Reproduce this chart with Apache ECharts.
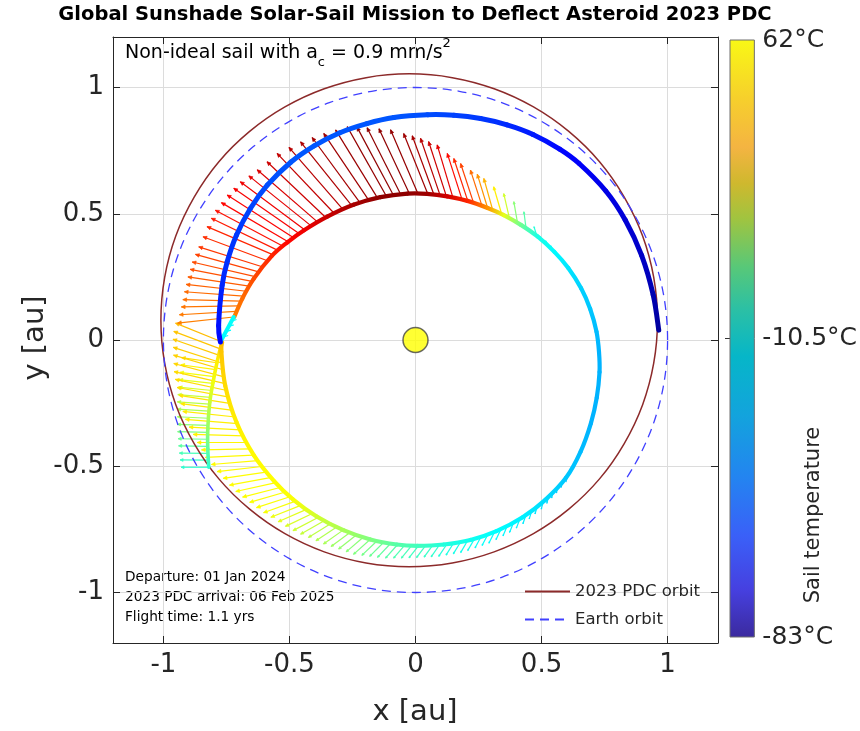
<!DOCTYPE html>
<html>
<head>
<meta charset="utf-8">
<script src="https://cdn.jsdelivr.net/npm/echarts@6.0.0/dist/echarts.min.js"></script>
<style>
html,body{margin:0;padding:0;background:#ffffff;}
#chart{width:860px;height:731px;}
</style>
</head>
<body>
<div id="chart"></div>
<script>
// ================= DATA =================
const axisTickValues = [-1, -0.5, 0, 0.5, 1];
const tempRange = [-83, 62];
const colorbarTickValues = [-83, -10.5, 62];

// Earth orbit (au)
const earthOrbitX = [1,0.985,0.940,0.866,0.766,0.643,0.500,0.342,0.174,0,-0.174,-0.342,-0.500,-0.643,-0.766,-0.866,-0.940,-0.985,-1,-0.985,-0.940,-0.866,-0.766,-0.643,-0.500,-0.342,-0.174,0,0.174,0.342,0.500,0.643,0.766,0.866,0.940,0.985];
const earthOrbitY = [0,0.174,0.342,0.500,0.643,0.766,0.866,0.940,0.985,1,0.985,0.940,0.866,0.766,0.643,0.500,0.342,0.174,0,-0.174,-0.342,-0.500,-0.643,-0.766,-0.866,-0.940,-0.985,-1,-0.985,-0.940,-0.866,-0.766,-0.643,-0.500,-0.342,-0.174];

// 2023 PDC orbit (au)
const pdcOrbitX = [0.960,0.945,0.901,0.828,0.730,0.608,0.468,0.312,0.146,-0.025,-0.196,-0.362,-0.518,-0.658,-0.780,-0.878,-0.951,-0.995,-1.010,-0.995,-0.951,-0.878,-0.780,-0.658,-0.518,-0.362,-0.196,-0.025,0.146,0.312,0.468,0.608,0.730,0.828,0.901,0.945];
const pdcOrbitY = [0.078,0.248,0.412,0.566,0.706,0.826,0.923,0.995,1.039,1.054,1.039,0.995,0.923,0.826,0.706,0.566,0.412,0.248,0.078,-0.092,-0.256,-0.410,-0.550,-0.670,-0.767,-0.839,-0.883,-0.898,-0.883,-0.839,-0.767,-0.670,-0.550,-0.410,-0.256,-0.092];

// Trajectory pieces: position (au) and sail temperature (degC)
const branchX = [-0.820,-0.824,-0.824,-0.816,-0.803,-0.787,-0.771];
const branchY = [-0.504,-0.431,-0.352,-0.246,-0.167,-0.087,-0.021];
const branchT = [-22.1,-14.9,-7.6,-0.4,5.5,9.8,14.2];

const loopX = [-0.767,-0.770,-0.755,-0.710,-0.641,-0.560,-0.485,-0.392,-0.286,-0.179,-0.074,0.007,0.112,0.218,0.321,0.425,0.515,0.597,0.655,0.696,0.719,0.730,0.728,0.718,0.693,0.657,0.606,0.551,0.484,0.418,0.350,0.286,0.206,0.126,0.046,-0.032,-0.139,-0.246,-0.350,-0.442,-0.507,-0.570,-0.642,-0.687,-0.719];
const loopY = [-0.008,-0.047,-0.180,-0.326,-0.457,-0.560,-0.632,-0.699,-0.753,-0.790,-0.810,-0.815,-0.810,-0.792,-0.757,-0.702,-0.633,-0.546,-0.442,-0.329,-0.228,-0.127,-0.048,0.033,0.123,0.205,0.285,0.349,0.410,0.456,0.495,0.523,0.551,0.569,0.579,0.580,0.566,0.536,0.489,0.435,0.388,0.333,0.242,0.164,0.091];
const loopT = [17.1,15.6,12.7,9.8,8.4,7.6,6.9,1.1,-4.7,-10.5,-16.3,-19.2,-23.6,-26.5,-28.6,-30.8,-33.7,-36.6,-38.1,-39.5,-39.5,-39.5,-39.5,-38.1,-36.6,-35.2,-32.3,-29.4,-25.0,-13.4,4.0,22.9,38.8,50.4,57.7,59.8,59.8,56.2,51.9,46.1,43.2,38.8,33.0,28.7,25.8];

const cyanX = [-0.721,-0.774];
const cyanY = [0.091,-0.008];
const cyanT = [-27.9,-29.4];

const blueX = [-0.774,-0.781,-0.767,-0.747,-0.710,-0.655,-0.588,-0.495,-0.402,-0.302,-0.193,-0.086,0.047,0.152,0.258,0.363,0.466,0.572,0.649,0.755,0.832,0.897,0.943,0.965];
const blueY = [-0.008,0.057,0.217,0.310,0.416,0.521,0.613,0.704,0.769,0.820,0.857,0.881,0.892,0.890,0.877,0.852,0.814,0.756,0.699,0.590,0.475,0.335,0.178,0.039];
const blueT = [-64.2,-62.7,-59.8,-58.4,-56.9,-55.5,-54.0,-52.6,-52.6,-52.6,-52.6,-52.6,-54.0,-55.5,-56.9,-59.1,-61.3,-64.2,-65.6,-68.5,-70.7,-72.9,-75.8,-78.7];

// Sail-thrust arrows: base (au), vector (au), temperature (degC)
const topArrowX = [-0.722,-0.712,-0.702,-0.692,-0.682,-0.671,-0.660,-0.648,-0.636,-0.622,-0.608,-0.590,-0.571,-0.550,-0.529,-0.507,-0.485,-0.462,-0.440,-0.414,-0.388,-0.356,-0.322,-0.287,-0.252,-0.219,-0.185,-0.151,-0.116,-0.088,-0.059,-0.025,0.009,0.048,0.073,0.098,0.123,0.149,0.186,0.209,0.232,0.265,0.287,0.307,0.342,0.373,0.405,0.439,0.482,0.511,0.529,0.549];
const topArrowY = [0.091,0.113,0.135,0.154,0.174,0.193,0.213,0.232,0.251,0.270,0.290,0.315,0.340,0.357,0.373,0.390,0.406,0.422,0.437,0.452,0.467,0.485,0.501,0.516,0.531,0.542,0.553,0.563,0.570,0.574,0.577,0.581,0.581,0.580,0.576,0.572,0.568,0.562,0.552,0.546,0.538,0.527,0.520,0.512,0.498,0.481,0.462,0.439,0.410,0.383,0.367,0.349];
const topArrowU = [-0.222,-0.225,-0.227,-0.231,-0.235,-0.239,-0.243,-0.246,-0.250,-0.251,-0.252,-0.253,-0.256,-0.260,-0.265,-0.263,-0.262,-0.259,-0.255,-0.247,-0.240,-0.233,-0.227,-0.215,-0.204,-0.191,-0.179,-0.166,-0.155,-0.144,-0.133,-0.120,-0.108,-0.095,-0.086,-0.078,-0.071,-0.063,-0.060,-0.057,-0.053,-0.047,-0.042,-0.036,-0.032,-0.023,-0.015,-0.009,-0.012,-0.019,-0.013,-0.013];
const topArrowV = [-0.024,-0.013,-0.004,0.006,0.017,0.027,0.037,0.048,0.058,0.069,0.079,0.094,0.109,0.125,0.141,0.154,0.168,0.179,0.190,0.198,0.207,0.221,0.238,0.247,0.254,0.260,0.265,0.269,0.275,0.269,0.264,0.256,0.252,0.238,0.233,0.227,0.218,0.211,0.187,0.173,0.161,0.146,0.137,0.128,0.109,0.099,0.086,0.069,0.039,0.029,0.026,0.024];
const topArrowT = [25.8,26.5,27.2,27.9,28.7,30.1,30.8,32.3,33.0,34.5,35.9,37.4,38.8,40.3,41.7,43.2,44.0,44.9,46.1,47.5,49.0,51.1,52.6,54.0,55.5,56.9,57.7,58.4,59.1,59.8,59.8,59.8,59.1,57.7,56.2,54.0,51.1,47.5,42.4,38.8,34.5,28.7,22.9,18.5,9.8,1.1,-9.1,-16.3,-23.6,-27.2,-28.6,-30.1];

const lowArrowX = [-0.767,-0.772,-0.772,-0.768,-0.763,-0.759,-0.755,-0.748,-0.739,-0.731,-0.723,-0.714,-0.705,-0.693,-0.680,-0.668,-0.655,-0.643,-0.626,-0.610,-0.593,-0.576,-0.558,-0.537,-0.516,-0.495,-0.473,-0.450,-0.428,-0.405,-0.381,-0.357,-0.332,-0.308,-0.283,-0.257,-0.231,-0.205,-0.179,-0.151,-0.124,-0.097,-0.069,-0.041,-0.013,0.014,0.042,0.070,0.097,0.125,0.152,0.180,0.207,0.234,0.261,0.288,0.314,0.340,0.365,0.390,0.415,0.439,0.462,0.484,0.507,0.528,0.546,0.564,0.582,0.600];
const lowArrowY = [-0.008,-0.036,-0.063,-0.091,-0.118,-0.146,-0.173,-0.200,-0.226,-0.252,-0.279,-0.305,-0.331,-0.356,-0.380,-0.406,-0.431,-0.456,-0.478,-0.501,-0.523,-0.545,-0.566,-0.584,-0.602,-0.620,-0.637,-0.653,-0.669,-0.685,-0.700,-0.713,-0.725,-0.738,-0.750,-0.760,-0.769,-0.779,-0.789,-0.794,-0.799,-0.804,-0.808,-0.810,-0.811,-0.812,-0.811,-0.810,-0.809,-0.808,-0.803,-0.798,-0.794,-0.787,-0.777,-0.768,-0.759,-0.747,-0.734,-0.721,-0.707,-0.691,-0.674,-0.656,-0.639,-0.619,-0.600,-0.581,-0.562,-0.543];
const lowArrowU = [-0.185,-0.187,-0.190,-0.193,-0.197,-0.200,-0.203,-0.205,-0.207,-0.207,-0.208,-0.209,-0.208,-0.205,-0.202,-0.198,-0.194,-0.191,-0.184,-0.177,-0.170,-0.162,-0.155,-0.149,-0.142,-0.136,-0.130,-0.124,-0.117,-0.111,-0.105,-0.099,-0.093,-0.087,-0.082,-0.078,-0.074,-0.070,-0.067,-0.062,-0.058,-0.054,-0.050,-0.046,-0.043,-0.040,-0.038,-0.036,-0.035,-0.033,-0.031,-0.030,-0.028,-0.027,-0.025,-0.024,-0.023,-0.021,-0.018,-0.017,-0.015,-0.013,-0.011,-0.010,-0.008,-0.007,-0.006,-0.005,-0.004,-0.003];
const lowArrowV = [0.075,0.070,0.066,0.062,0.058,0.053,0.048,0.044,0.038,0.033,0.027,0.022,0.017,0.011,0.006,0.000,-0.004,-0.009,-0.015,-0.020,-0.025,-0.030,-0.034,-0.038,-0.041,-0.044,-0.047,-0.049,-0.051,-0.053,-0.055,-0.056,-0.057,-0.057,-0.058,-0.058,-0.059,-0.060,-0.060,-0.059,-0.058,-0.057,-0.056,-0.054,-0.053,-0.051,-0.051,-0.050,-0.050,-0.049,-0.049,-0.049,-0.048,-0.047,-0.047,-0.046,-0.046,-0.044,-0.042,-0.041,-0.038,-0.037,-0.035,-0.033,-0.031,-0.028,-0.026,-0.025,-0.023,-0.020];
const lowArrowT = [17.1,16.0,15.3,14.7,14.2,13.6,12.8,12.3,11.8,11.3,10.7,10.2,9.8,9.5,9.2,8.9,8.6,8.4,8.2,8.1,7.9,7.8,7.6,7.5,7.2,7.0,6.6,5.2,3.7,2.3,0.7,-0.6,-1.9,-3.4,-4.8,-6.3,-7.7,-9.1,-10.5,-11.9,-13.4,-14.8,-16.4,-17.5,-18.5,-19.5,-20.1,-20.7,-21.8,-23.7,-24.6,-25.4,-26.2,-26.7,-27.3,-27.9,-28.3,-28.9,-29.5,-29.9,-30.5,-31.1,-31.8,-32.5,-33.1,-33.8,-34.6,-35.2,-35.9,-36.5];

const branchArrowX = [-0.820,-0.822,-0.823,-0.824,-0.824,-0.824,-0.823,-0.821,-0.819,-0.817,-0.813,-0.808,-0.804,-0.799,-0.793,-0.788];
const branchArrowY = [-0.504,-0.476,-0.449,-0.421,-0.393,-0.366,-0.338,-0.310,-0.282,-0.254,-0.227,-0.200,-0.172,-0.145,-0.117,-0.090];
const branchArrowU = [-0.110,-0.112,-0.114,-0.116,-0.118,-0.120,-0.122,-0.124,-0.126,-0.128,-0.130,-0.132,-0.134,-0.136,-0.138,-0.140];
const branchArrowV = [0.000,0.001,0.001,0.002,0.002,0.003,0.004,0.006,0.008,0.009,0.011,0.013,0.015,0.017,0.019,0.020];
const branchArrowT = [-22.1,-20.7,-18.5,-15.6,-13.4,-11.2,-9.1,-6.9,-4.7,-2.5,-0.4,1.8,4.0,6.2,9.1,12.0];

const cyanArrowX = [-0.730,-0.741,-0.752,-0.763];
const cyanArrowY = [0.075,0.054,0.033,0.012];
const cyanArrowU = [0.020,0.020,0.020,0.020];
const cyanArrowV = [0.006,0.006,0.006,0.006];
const cyanArrowT = [-28.0,-28.5,-29.0,-29.3];

const sunPosition = [0, 0];

// ================= COLOR MAPS =================
const FONT = '"DejaVu Sans", "Liberation Sans", Arial, sans-serif';
const AXIS_COLOR = '#262626';
const PDC_COLOR = '#8c2a2a';
const EARTH_COLOR = '#4040ff';

function clamp01(v) { return Math.max(0, Math.min(1, v)); }
function jetColor(T) {
  const v = clamp01((T - tempRange[0]) / (tempRange[1] - tempRange[0]));
  const r = clamp01(1.5 - Math.abs(4 * v - 3));
  const g = clamp01(1.5 - Math.abs(4 * v - 2));
  const b = clamp01(1.5 - Math.abs(4 * v - 1));
  return 'rgb(' + Math.round(r * 255) + ',' + Math.round(g * 255) + ',' + Math.round(b * 255) + ')';
}
const parulaStops = [
  [0.00, '#f9f815'], [0.10, '#f6cf2c'], [0.18, '#f4b442'], [0.24, '#cfb82e'],
  [0.30, '#a0c440'], [0.38, '#58c878'], [0.45, '#2cc0a4'], [0.53, '#06b6c8'],
  [0.63, '#13a3dd'], [0.73, '#2385f0'], [0.83, '#3a60f8'], [0.92, '#4640e0'], [1.00, '#3b2a9e']
];

// ================= SERIES DATA BUILD =================
const pathPieces = [
  { x: branchX, y: branchY, t: branchT, w: 3.6 },
  { x: loopX, y: loopY, t: loopT, w: 4.2 },
  { x: cyanX, y: cyanY, t: cyanT, w: 4.0 },
  { x: blueX, y: blueY, t: blueT, w: 5.0 }
];
const pathSegments = [];
pathPieces.forEach(function (p, pi) {
  for (let i = 0; i < p.x.length - 1; i++) {
    pathSegments.push([p.x[i], p.y[i], p.x[i + 1], p.y[i + 1], pi, i]);
  }
});

const orbits = [
  { x: pdcOrbitX, y: pdcOrbitY, color: PDC_COLOR, width: 1.5, dash: null },
  { x: earthOrbitX, y: earthOrbitY, color: EARTH_COLOR, width: 1.3, dash: [9, 6] }
];

const arrowSets = [
  [branchArrowX, branchArrowY, branchArrowU, branchArrowV, branchArrowT],
  [lowArrowX, lowArrowY, lowArrowU, lowArrowV, lowArrowT],
  [cyanArrowX, cyanArrowY, cyanArrowU, cyanArrowV, cyanArrowT],
  [topArrowX, topArrowY, topArrowU, topArrowV, topArrowT]
];
const arrowData = [];
arrowSets.forEach(function (s) {
  for (let i = 0; i < s[0].length; i++) arrowData.push([s[0][i], s[1][i], s[2][i], s[3][i], s[4][i]]);
});

// ================= RENDERERS =================
function renderPath(params, api) {
  const pi = api.value(4), i = api.value(5);
  const P = pathPieces[pi];
  const n = P.x.length;
  function pt(j) { j = Math.max(0, Math.min(n - 1, j)); return api.coord([P.x[j], P.y[j]]); }
  const p0 = pt(i - 1), p1 = pt(i), p2 = pt(i + 1), p3 = pt(i + 2);
  const k = 1 / 6;
  const c1 = [p1[0] + (p2[0] - p0[0]) * k, p1[1] + (p2[1] - p0[1]) * k];
  const c2 = [p2[0] - (p3[0] - p1[0]) * k, p2[1] - (p3[1] - p1[1]) * k];
  const grad = new echarts.graphic.LinearGradient(p1[0], p1[1], p2[0], p2[1], [
    { offset: 0, color: jetColor(P.t[i]) }, { offset: 1, color: jetColor(P.t[i + 1]) }
  ], true);
  return {
    type: 'bezierCurve',
    shape: { x1: p1[0], y1: p1[1], x2: p2[0], y2: p2[1], cpx1: c1[0], cpy1: c1[1], cpx2: c2[0], cpy2: c2[1] },
    style: { stroke: grad, lineWidth: P.w, fill: null, lineCap: 'round' }
  };
}

function renderOrbit(params, api) {
  const o = orbits[api.value(0)];
  const n = o.x.length;
  const P = o.x.map(function (x, i) { return api.coord([x, o.y[i]]); });
  const k = 1 / 6;
  let d = 'M' + P[0][0].toFixed(2) + ',' + P[0][1].toFixed(2);
  for (let i = 0; i < n; i++) {
    const p0 = P[(i - 1 + n) % n], p1 = P[i], p2 = P[(i + 1) % n], p3 = P[(i + 2) % n];
    const c1 = [p1[0] + (p2[0] - p0[0]) * k, p1[1] + (p2[1] - p0[1]) * k];
    const c2 = [p2[0] - (p3[0] - p1[0]) * k, p2[1] - (p3[1] - p1[1]) * k];
    d += 'C' + c1[0].toFixed(2) + ',' + c1[1].toFixed(2) + ' ' + c2[0].toFixed(2) + ',' + c2[1].toFixed(2) + ' ' + p2[0].toFixed(2) + ',' + p2[1].toFixed(2);
  }
  return {
    type: 'path',
    shape: { pathData: d },
    style: { stroke: o.color, lineWidth: o.width, fill: null, lineDash: o.dash }
  };
}

function renderArrow(params, api) {
  const x = api.value(0), y = api.value(1), u = api.value(2), v = api.value(3);
  const b = api.coord([x, y]);
  const t = api.coord([x + u, y + v]);
  const dx = t[0] - b[0], dy = t[1] - b[1];
  const L = Math.sqrt(dx * dx + dy * dy);
  const col = jetColor(api.value(4));
  const children = [{ type: 'line', shape: { x1: b[0], y1: b[1], x2: t[0], y2: t[1] }, style: { stroke: col, lineWidth: 1.2 } }];
  if (L > 6) {
    const h = Math.min(4.2, 0.12 * L);
    const ux = dx / L, uy = dy / L;
    const ca = Math.cos(0.45), sa = Math.sin(0.45);
    const q1 = [t[0] - h * (ux * ca - uy * sa), t[1] - h * (uy * ca + ux * sa)];
    const q2 = [t[0] - h * (ux * ca + uy * sa), t[1] - h * (uy * ca - ux * sa)];
    children.push({ type: 'polygon', shape: { points: [q1, t, q2] }, style: { fill: col, stroke: col, lineWidth: 0.6 } });
  }
  return { type: 'group', children: children };
}

function renderColorbar(params, api) {
  const tl = api.coord([api.value(0), api.value(3)]);
  const br = api.coord([api.value(2), api.value(1)]);
  return {
    type: 'rect',
    shape: { x: tl[0], y: tl[1], width: br[0] - tl[0], height: br[1] - tl[1] },
    style: {
      fill: new echarts.graphic.LinearGradient(0, 0, 0, 1, parulaStops.map(function (s) { return { offset: s[0], color: s[1] }; })),
      stroke: '#6e6e6e', lineWidth: 1
    }
  };
}

// ================= CHART =================
const chart = echarts.init(document.getElementById('chart'), null, { renderer: 'canvas' });

const mainAxisCommon = {
  type: 'value', min: -1.2, max: 1.2, gridIndex: 0,
  axisLine: { show: true, onZero: false, lineStyle: { color: AXIS_COLOR, width: 1 } },
  axisTick: { show: true, inside: true, length: 7, customValues: axisTickValues, lineStyle: { color: AXIS_COLOR } },
  splitLine: { show: false }
};

const option = {
  animation: false,
  backgroundColor: '#ffffff',
  grid: [
    { left: 113, top: 37, width: 605, height: 606, containLabel: false },
    { left: 730, top: 40, width: 25, height: 597, containLabel: false }
  ],
  xAxis: [
    Object.assign({}, mainAxisCommon, {
      position: 'bottom',
      axisLabel: { show: true, customValues: axisTickValues, fontFamily: FONT, fontSize: 26, color: AXIS_COLOR, margin: 9 },
      splitLine: { show: true, lineStyle: { color: '#dcdcdc', width: 1 } }
    }),
    Object.assign({}, mainAxisCommon, { position: 'top', axisLabel: { show: false } }),
    { type: 'value', gridIndex: 1, min: 0, max: 1, show: false }
  ],
  yAxis: [
    Object.assign({}, mainAxisCommon, {
      position: 'left',
      axisLabel: { show: true, customValues: axisTickValues, fontFamily: FONT, fontSize: 26, color: AXIS_COLOR, margin: 9 },
      splitLine: { show: true, lineStyle: { color: '#dcdcdc', width: 1 } }
    }),
    Object.assign({}, mainAxisCommon, { position: 'right', axisLabel: { show: false } }),
    {
      type: 'value', gridIndex: 1, min: tempRange[0], max: tempRange[1], position: 'right',
      axisLine: { show: false },
      axisTick: { show: true, inside: true, length: 5, customValues: [colorbarTickValues[1]], lineStyle: { color: '#333' } },
      axisLabel: { show: true, customValues: colorbarTickValues, fontFamily: FONT, fontSize: 25, color: AXIS_COLOR, margin: 8,
        padding: [8, 0, 0, 0],
        formatter: function (v) { return v + '°C'; } },
      splitLine: { show: false }
    }
  ],
  legend: {
    data: ['2023 PDC orbit', 'Earth orbit'],
    orient: 'vertical', left: 524, top: 583, padding: 0,
    itemWidth: 45, itemHeight: 14, itemGap: 11, selectedMode: false,
    itemStyle: { opacity: 0, color: 'rgba(0,0,0,0)', borderWidth: 0 },
    textStyle: { fontFamily: FONT, fontSize: 16.5, color: AXIS_COLOR }
  },
  series: [
    {
      name: 'arrows', type: 'custom', xAxisIndex: 0, yAxisIndex: 0, z: 2,
      renderItem: renderArrow, data: arrowData, encode: { x: 0, y: 1 }, silent: true
    },
    {
      name: 'orbits', type: 'custom', xAxisIndex: 0, yAxisIndex: 0, z: 3,
      renderItem: renderOrbit, data: [[0], [1]], silent: true
    },
    {
      name: '2023 PDC orbit', type: 'line', xAxisIndex: 0, yAxisIndex: 0, data: [], symbol: 'none',
      lineStyle: { color: PDC_COLOR, width: 1.5 }, itemStyle: { color: PDC_COLOR }
    },
    {
      name: 'Earth orbit', type: 'line', xAxisIndex: 0, yAxisIndex: 0, data: [], symbol: 'none',
      lineStyle: { color: EARTH_COLOR, width: 1.3, type: [9, 6] }, itemStyle: { color: EARTH_COLOR }
    },
    {
      name: 'trajectory', type: 'custom', xAxisIndex: 0, yAxisIndex: 0, z: 4,
      renderItem: renderPath, data: pathSegments, encode: { x: [0, 2], y: [1, 3] }, silent: true
    },
    {
      name: 'Sun', type: 'scatter', xAxisIndex: 0, yAxisIndex: 0, z: 5,
      data: [sunPosition], symbol: 'circle', symbolSize: 25, silent: true,
      itemStyle: { color: '#ffff00', borderColor: '#444444', borderWidth: 1.5 }
    },
    {
      name: 'colorbar', type: 'custom', xAxisIndex: 2, yAxisIndex: 2,
      renderItem: renderColorbar, data: [[0, tempRange[0], 1, tempRange[1]]], encode: { x: [0, 2], y: [1, 3] }, silent: true
    }
  ],
  graphic: [
    { type: 'text', x: 415, y: 15, style: { text: 'Global Sunshade Solar-Sail Mission to Deflect Asteroid 2023 PDC',
      font: 'bold 19.5px ' + FONT, fill: '#000', textAlign: 'center', textVerticalAlign: 'middle' } },
    { type: 'text', x: 415, y: 712, style: { text: 'x [au]', font: '29px ' + FONT, fill: AXIS_COLOR, textAlign: 'center', textVerticalAlign: 'middle' } },
    { type: 'text', x: 35, y: 338, rotation: Math.PI / 2, style: { text: 'y [au]', font: '29px ' + FONT, fill: AXIS_COLOR, textAlign: 'center', textVerticalAlign: 'middle' } },
    { type: 'text', x: 814, y: 515, rotation: Math.PI / 2, style: { text: 'Sail temperature', font: '21px ' + FONT, fill: AXIS_COLOR, textAlign: 'center', textVerticalAlign: 'middle' } },
    { type: 'text', x: 125, y: 53, style: {
      text: '{m|Non-ideal sail with a}{s|c}{m| = 0.9 mm/s}{p|2}',
      textVerticalAlign: 'middle', fill: '#000',
      rich: {
        m: { fontFamily: FONT, fontSize: 19, lineHeight: 32, verticalAlign: 'middle', color: '#000' },
        s: { fontFamily: FONT, fontSize: 13, verticalAlign: 'bottom', color: '#000' },
        p: { fontFamily: FONT, fontSize: 13, verticalAlign: 'top', color: '#000' }
      } } },
    { type: 'text', x: 125, y: 577, style: { text: 'Departure: 01 Jan 2024', font: '13.7px ' + FONT, fill: '#000', textVerticalAlign: 'middle' } },
    { type: 'text', x: 125, y: 597, style: { text: '2023 PDC arrival: 06 Feb 2025', font: '13.7px ' + FONT, fill: '#000', textVerticalAlign: 'middle' } },
    { type: 'text', x: 125, y: 617, style: { text: 'Flight time: 1.1 yrs', font: '13.7px ' + FONT, fill: '#000', textVerticalAlign: 'middle' } }
  ]
};

chart.setOption(option);
</script>
</body>
</html>
